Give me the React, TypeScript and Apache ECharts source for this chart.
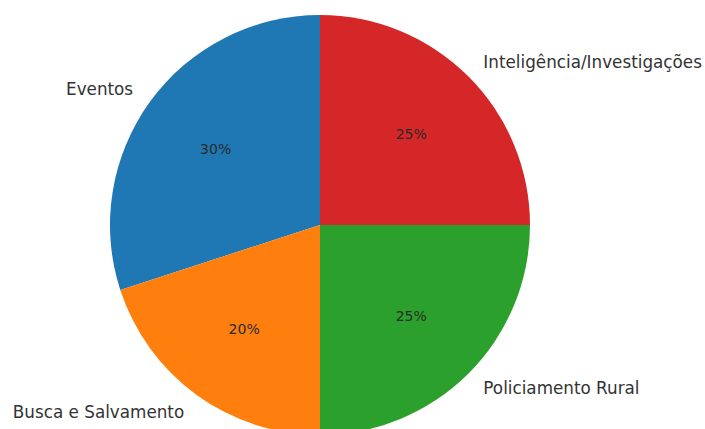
import React, { useEffect, useRef } from "react";
import * as echarts from "echarts";

const categories = ["Eventos", "Busca e Salvamento", "Policiamento Rural", "Inteligência/Investigações"];
const values = [30, 20, 25, 25];
const colors = ["#1f77b4", "#ff7f0e", "#2ca02c", "#d62728"];

export default function App() {
  const ref = useRef<HTMLDivElement>(null);
  useEffect(() => {
    if (!ref.current) return;
    const chart = echarts.init(ref.current, null, { renderer: "svg" });
    const data = categories.map((name, i) => ({ name, value: values[i], itemStyle: { color: colors[i] } }));
    const font = "DejaVu Sans";
    chart.setOption({
      animation: false,
      backgroundColor: "#ffffff",
      series: [
        {
          type: "pie",
          center: [320, 225],
          radius: [0, 210],
          startAngle: 90,
          clockwise: false,
          avoidLabelOverlap: false,
          silent: true,
          data,
          label: {
            show: true,
            position: "outside",
            color: "#333333",
            fontFamily: font,
            fontSize: 16.8,
            distanceToLabelLine: 0,
            formatter: "{b}",
          },
          labelLine: { show: false, length: 21, length2: 0 },
          itemStyle: { borderWidth: 0 },
          emphasis: { disabled: true },
        },
        {
          type: "pie",
          center: [320, 225],
          radius: [42, 210],
          startAngle: 90,
          clockwise: false,
          avoidLabelOverlap: false,
          silent: true,
          data: categories.map((name, i) => ({ name, value: values[i] })),
          itemStyle: { color: "rgba(0,0,0,0)", borderWidth: 0 },
          label: {
            show: true,
            position: "inside",
            color: "#2a2a2a",
            fontFamily: font,
            fontSize: 14,
            formatter: (p: any) => Math.round(p.percent) + "%",
          },
          labelLine: { show: false },
          emphasis: { disabled: true },
        },
      ],
    });
    return () => chart.dispose();
  }, []);
  return <div ref={ref} style={{ position: "fixed", left: 0, top: 0, width: 705, height: 429 }} />;
}
